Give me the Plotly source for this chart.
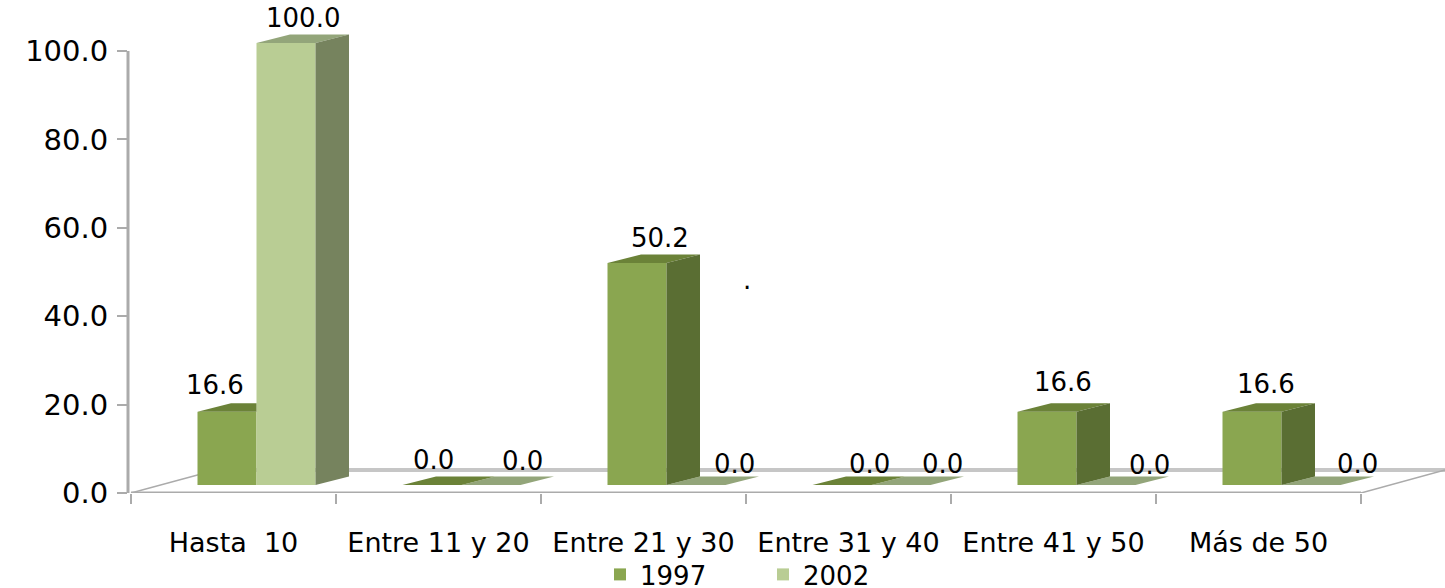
import plotly.graph_objects as go

categories = ["Hasta  10", "Entre 11 y 20", "Entre 21 y 30", "Entre 31 y 40", "Entre 41 y 50", "Más de 50"]
values_1997 = [16.6, 0.0, 50.2, 0.0, 16.6, 16.6]
values_2002 = [100.0, 0.0, 0.0, 0.0, 0.0, 0.0]

# label nudges (pixels) relative to the top centre of each bar
shift_1997 = [(-12, 27), (1, 25), (23, 25), (27, 21), (16, 30), (14, 28)]
shift_2002 = [(17, 25), (31, 24), (38, 21), (41, 21), (43, 20), (46, 21)]

PX_X = 205.0
PX_Y = 4.42
FONT = "DejaVu Sans"
LABEL_SIZE = 26
TICK_SIZE = 29
CAT_SIZE = 27
LINE = "#ababab"
BASE = 8 / PX_Y          # front plane sits above the axis zero
BAR_W = 59 / PX_X
OFF_A = 66.5 / PX_X
OFF_B = OFF_A + BAR_W
DX = 33.5 / PX_X
DY = 8.5 / PX_Y


def side_poly(lefts, vals):
    xs, ys = [], []
    for l, v in zip(lefts, vals):
        if v <= 0:
            continue
        r = l + BAR_W
        xs += [r, r + DX, r + DX, r, r, None]
        ys += [BASE, BASE + DY, BASE + DY + v, BASE + v, BASE, None]
    return xs, ys


def top_poly(lefts, vals, limit=None):
    xs, ys = [], []
    for i, (l, v) in enumerate(zip(lefts, vals)):
        r = l + BAR_W
        t = BASE + v
        pts = [(l, t), (l + DX, t + DY), (r + DX, t + DY), (r, t)]
        if limit is not None and limit[i] is not None:
            pts = [(l, t), (l + DX, t + DY), (limit[i], t + DY), (limit[i], t)]
        xs += [p[0] for p in pts] + [l, None]
        ys += [p[1] for p in pts] + [t, None]
    return xs, ys


idx = list(range(len(categories)))
left_a = [i + OFF_A for i in idx]
left_b = [i + OFF_B for i in idx]
# 1997 is hidden by the 2002 bar where 2002 is taller
hidden = [a < b for a, b in zip(values_1997, values_2002)]
limit_a = [l + BAR_W if h else None for l, h in zip(left_a, hidden)]
side_a_vals = [0 if h else v for v, h in zip(values_1997, hidden)]

fig = go.Figure()
fig.add_bar(x=[l + BAR_W / 2 for l in left_a], y=values_1997, base=BASE, width=BAR_W, name="1997",
            marker=dict(color="#8aa650", line_width=0), hoverinfo="skip")
fig.add_bar(x=[l + BAR_W / 2 for l in left_b], y=values_2002, base=BASE, width=BAR_W, name="2002",
            marker=dict(color="#b9cd94", line_width=0), hoverinfo="skip")


def poly(xy, color):
    fig.add_scatter(x=xy[0], y=xy[1], mode="lines", fill="toself", fillcolor=color,
                    line=dict(width=0, color=color), showlegend=False, hoverinfo="skip")


poly(top_poly(left_b, values_2002), "#93a57a")
poly(side_poly(left_b, values_2002), "#76835e")
poly(top_poly(left_a, values_1997, limit_a), "#6b8238")
poly(side_poly(left_a, side_a_vals), "#5a6e33")

x_end = (1445 - 131) / PX_X
back_y = 23 / PX_Y
y_top = 493 / PX_Y
shapes = [
    dict(type="line", layer="below", xref="paper", yref="y", x0=0, x1=0, y0=0, y1=100,
         line=dict(color=LINE, width=3)),
    dict(type="line", layer="below", xref="x", yref="y", x0=85 / PX_X, x1=x_end, y0=back_y, y1=back_y,
         line=dict(color="#c6c6c6", width=4)),
    dict(type="line", layer="below", xref="x", yref="y", x0=0, x1=6, y0=0, y1=0,
         line=dict(color=LINE, width=3)),
    dict(type="line", layer="below", xref="x", yref="y", x0=0, x1=85 / PX_X, y0=0, y1=back_y,
         line=dict(color=LINE, width=1.5)),
    dict(type="line", layer="below", xref="x", yref="y", x0=6, x1=x_end, y0=0, y1=back_y,
         line=dict(color=LINE, width=1.5)),
]

annotations = []
for lefts, vals, shifts in ((left_a, values_1997, shift_1997), (left_b, values_2002, shift_2002)):
    for l, v, (sx, sy) in zip(lefts, vals, shifts):
        annotations.append(dict(x=l + BAR_W / 2, y=BASE + v, xref="x", yref="y", text=f"{v:.1f}", showarrow=False,
                                xshift=sx, yshift=sy, font=dict(family=FONT, size=LABEL_SIZE, color="#000000")))
annotations.append(dict(x=3.005, y=48.2, xref="x", yref="y", text=".", showarrow=False,
                        font=dict(family=FONT, size=LABEL_SIZE, color="#000000")))

fig.update_layout(
    width=1445, height=598,
    margin=dict(l=128, r=0, t=0, b=105, pad=0, autoexpand=False),
    paper_bgcolor="white", plot_bgcolor="white",
    barmode="overlay",
    font=dict(family=FONT, size=LABEL_SIZE, color="#000000"),
    shapes=shapes, annotations=annotations,
    showlegend=True,
    legend=dict(orientation="h", x=600 / 1445, xanchor="left", xref="container", y=0, yanchor="bottom", yref="container",
                font=dict(family=FONT, size=26), traceorder="normal",
                entrywidth=118, entrywidthmode="pixels", bgcolor="rgba(0,0,0,0)"),
    xaxis=dict(range=[-3 / PX_X, x_end], showgrid=False, zeroline=False, showline=False,
               tickmode="array", tickvals=[i + 0.5 for i in idx], ticktext=categories, ticks="",
               ticklabelstandoff=31, tickangle=0, tickfont=dict(family=FONT, size=CAT_SIZE),
               minor=dict(tickmode="array", tickvals=list(range(7)), ticks="outside", ticklen=10, tickwidth=2,
                          tickcolor=LINE, showgrid=False)),
    yaxis=dict(range=[0, y_top], tickmode="array", tickvals=[0, 20, 40, 60, 80, 100], tickformat=".1f",
               showgrid=False, zeroline=False, showline=False, tickfont=dict(family=FONT, size=TICK_SIZE),
               ticks="outside", ticklen=10, tickwidth=2, tickcolor=LINE, ticklabelstandoff=3),
)

fig.write_html("out.html", config=dict(displayModeBar=False),
               post_script="document.body.style.margin='0';document.documentElement.style.overflow='hidden';")
